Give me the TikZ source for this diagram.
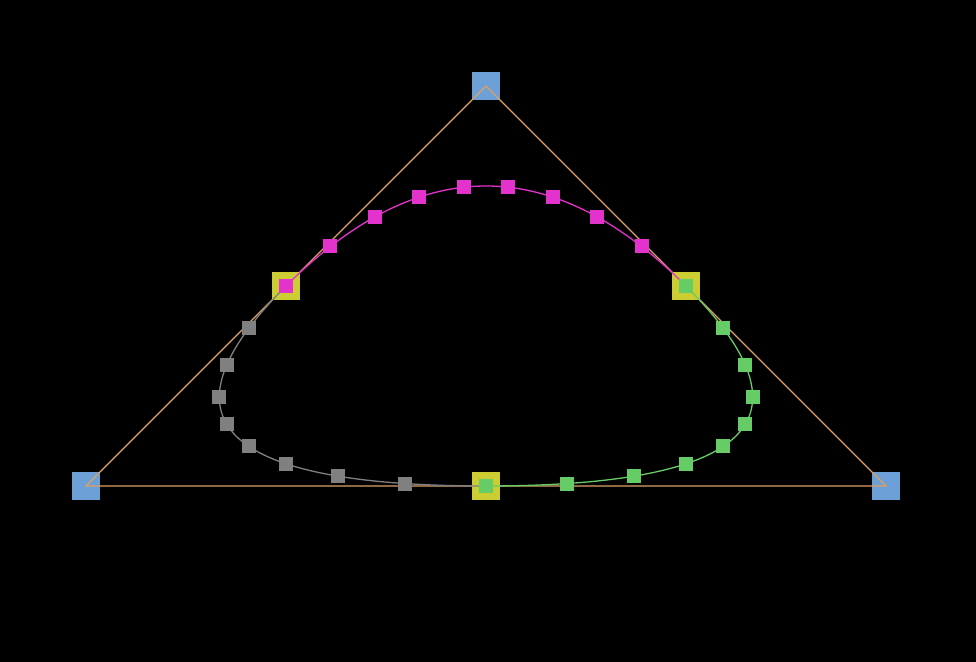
\documentclass[tikz,border=0pt]{standalone}
\usetikzlibrary{calc}
\definecolor{ctrlblue}{RGB}{108,160,214}
\definecolor{knotyellow}{RGB}{204,204,51}
\definecolor{hullorange}{RGB}{222,160,100}
\definecolor{seggray}{RGB}{128,128,128}
\definecolor{segpink}{RGB}{228,50,204}
\definecolor{seggreen}{RGB}{102,204,102}
\begin{document}
\begin{tikzpicture}[x=0.5pt,y=-0.5pt,
    ctrl/.style={fill=ctrlblue,inner sep=0pt,minimum size=14pt},
    knot/.style={fill=knotyellow,inner sep=0pt,minimum size=14pt},
    dot/.style={inner sep=0pt,minimum size=7pt},
    hull/.style={draw=hullorange,line width=0.65pt},
    seg/.style={line width=0.65pt}]
    \fill [black] (0,0) rectangle (976,662);
    \node [ctrl] (A) at (486,86) {};
    \node [ctrl] (B) at (86,486) {};
    \node [ctrl] (C) at (886,486) {};
    \draw [hull] (A.center) -- (B.center) -- (C.center) -- cycle;
    \node [knot] (mAB) at ($(A)!0.5!(B)$) {};
    \node [knot] (mAC) at ($(A)!0.5!(C)$) {};
    \node [knot] (mBC) at ($(B)!0.5!(C)$) {};
    % one quadratic piece per corner, points at t = k/9
    \foreach \p/\q/\r/\col/\nm in {mBC/B/mAB/seggray/g, mAB/A/mAC/segpink/m, mAC/C/mBC/seggreen/s} {
        \draw [seg,draw=\col] (\p.center) .. controls ($(\p)!2/3!(\q)$) and ($(\r)!2/3!(\q)$) .. (\r.center);
        \foreach \k in {0,...,9} {
            \node [dot,fill=\col] (\nm\k) at ($($(\p)!\k/9!(\q)$)!\k/9!($(\q)!\k/9!(\r)$)$) {};
        }
    }
\end{tikzpicture}
\end{document}
